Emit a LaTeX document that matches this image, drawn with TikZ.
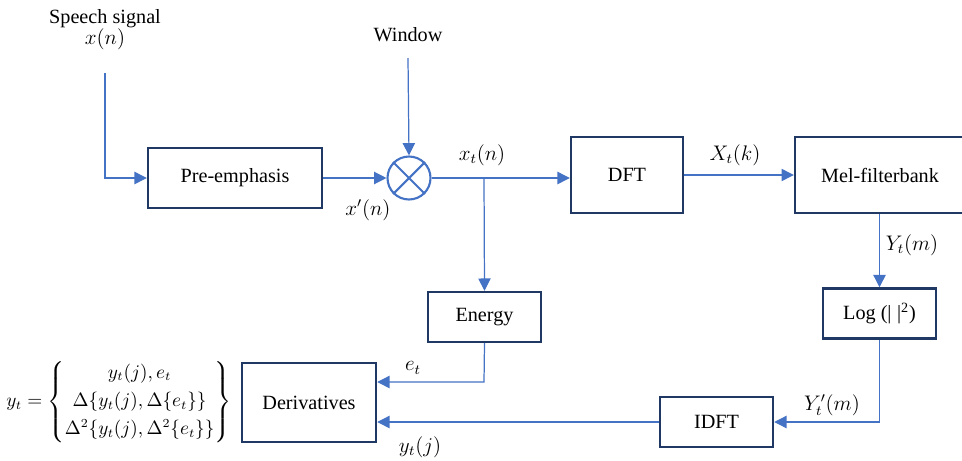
\documentclass[tikz,border=0pt]{standalone}
\usepackage{amsmath}
\usepackage{fontspec}
\setmainfont{Liberation Serif}
\usetikzlibrary{arrows.meta}

\definecolor{boxline}{HTML}{1F3864}
\definecolor{flow}{HTML}{4472C4}

\tikzset{
    block/.style={draw=boxline, line width=1.4pt, minimum width=2.26cm, minimum height=1cm, font=\fontsize{11.5}{13}\selectfont},
    sig/.style={draw=flow, line width=0.7pt, -{Triangle[length=7pt,width=7pt]}},
    lbl/.style={font=\fontsize{11.5}{13}\selectfont}
}

\begin{document}
\begin{tikzpicture}[x=0.02cm, y=-0.02cm]
    \useasboundingbox (0,0) rectangle (962,460);
    % Below nodes are the blocks.
        \node[block, minimum width=3.48cm, minimum height=1.2cm] (pre) at (235,178) {Pre-emphasis};
        \node[block, minimum height=1.52cm, minimum width=2.24cm] (dft) at (627,175) {DFT};
        \node[block, minimum height=1.52cm, minimum width=3.4cm] (mel) at (880,175) {Mel-filterbank};
        \node[block] (energy) at (484.5,317) {Energy};
        \node[block] (log) at (879.5,313.5) {Log (|\;|\textsuperscript{2})};
        \node[block] (idft) at (716.5,422) {IDFT};
        \node[block, minimum width=2.68cm, minimum height=1.58cm] (deriv) at (309,402.5) {Derivatives};
    % This draws the multiplier.
        \node[draw=flow, line width=1.2pt, circle, minimum size=0.86cm, inner sep=0pt] (mult) at (409,178) {};
        \draw[flow, line width=1.2pt] (mult.north west) -- (mult.south east) (mult.north east) -- (mult.south west);
    % Below nodes are the labels.
        \node[lbl, align=center] (speech) at (105,30) {Speech signal\\[-1pt] $x(n)$};
        \node[lbl] (win) at (408,35) {Window};
        \node[lbl] (xp) at (368,210) {$x'(n)$};
        \node[lbl] (xt) at (482,155) {$x_t(n)$};
        \node[lbl] (Xt) at (735,155) {$X_t(k)$};
        \node[lbl] (Yt) at (912,245) {$Y_t(m)$};
        \node[lbl] (Ytp) at (832,405) {$Y'_t(m)$};
        \node[lbl] (et) at (413,368) {$e_t$};
        \node[lbl] (ytj) at (420,447) {$y_t(j)$};
        \node[inner sep=0pt, font=\fontsize{10.5}{12}\selectfont] (eq) at (119,402) {$y_t=\left\{\begin{matrix} y_t(j),e_t\\[4pt] \Delta\{y_t(j),\Delta\{e_t\}\}\\[4pt] \Delta^2\{y_t(j),\Delta^2\{e_t\}\}\end{matrix}\right\}$};
    % Points where the lines start or turn.
        \coordinate (src) at (105,73);
        \coordinate (wtop) at (408,58);
        \coordinate (split) at (484,178);
        \coordinate (eturn) at (484,382);
    % This draws the connectors.
        \draw[sig] (src) |- (pre.west);
        \draw[sig] (wtop) -- (mult.north);
        \draw[sig] (pre.east) -- (mult.west);
        \draw[sig] (mult.east) -- (mult -| dft.west);
        \draw[sig] (split) -- (energy.north);
        \draw[sig] (dft.east) -- (mel.west);
        \draw[sig] (mel.south -| log.north) -- (log.north);
        \draw[sig] (log.south) |- (idft.east);
        \draw[sig] (idft.west) -- (idft.west -| deriv.east);
        \draw[sig] (energy.south) -- (eturn) -- (eturn -| deriv.east);
\end{tikzpicture}
\end{document}
